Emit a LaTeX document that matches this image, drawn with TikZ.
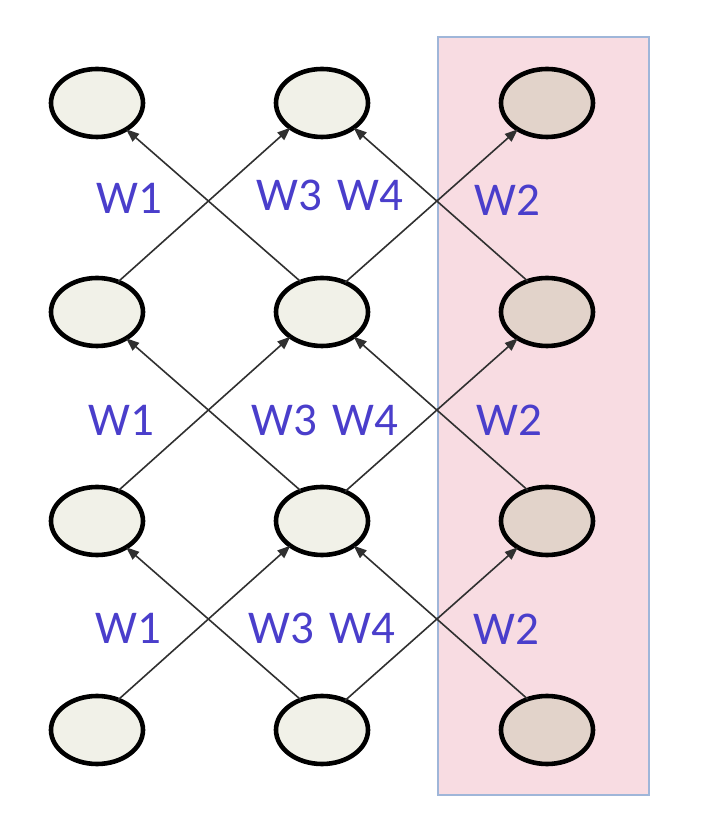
\documentclass[tikz,border=0pt]{standalone}
\usepackage{fontspec}
\setmainfont{Carlito}
\usepackage{xcolor}
\usetikzlibrary{shapes.geometric,arrows.meta,positioning,calc}
\definecolor{cellCream}{HTML}{F1F1E8}
\definecolor{cellRose}{HTML}{E2D3CA}
\definecolor{panelPink}{HTML}{F8DCE2}
\definecolor{panelEdge}{HTML}{9FB6D9}
\definecolor{wLabel}{HTML}{4A3ECB}
\definecolor{wireGray}{HTML}{303030}

\begin{document}
\begin{tikzpicture}[
    x=1pt, y=1pt,
    node distance=141pt and 133pt,
    font=\fontsize{47}{54}\selectfont,
    cell/.style={ellipse, draw=black, fill=cellCream, line width=4.6pt, minimum width=92pt, minimum height=68pt, inner sep=0pt, outer sep=0pt},
    shared/.style={cell, fill=cellRose},
    wire/.style={draw=wireGray, line width=1.6pt, -{Triangle[length=13pt,width=10pt]}},
    wlab/.style={text=wLabel, inner sep=0pt}
  ]
    \useasboundingbox (0,0) rectangle (704,832);
    % shaded column
    \draw[fill=panelPink, draw=panelEdge, line width=2pt] (438,37) rectangle (649,795);

    % left column
    \node[cell] (a1) at (97,729) {};
    \node[cell, below=of a1] (a2) {};
    \node[cell, below=of a2] (a3) {};
    \node[cell, below=of a3] (a4) {};
    % middle column
    \node[cell, right=of a1] (b1) {};
    \node[cell, below=of b1] (b2) {};
    \node[cell, below=of b2] (b3) {};
    \node[cell, below=of b3] (b4) {};
    % right column
    \node[shared, right=of b1] (c1) {};
    \node[shared, below=of c1] (c2) {};
    \node[shared, below=of c2] (c3) {};
    \node[shared, below=of c3] (c4) {};

    % row 2 -> row 1
    \draw[wire] (a2.55) -- (b1.218);
    \draw[wire] (b2.125) -- (a1.318);
    \draw[wire] (b2.52) -- (c1.222);
    \draw[wire] (c2.122) -- (b1.322);
    % row 3 -> row 2
    \draw[wire] (a3.55) -- (b2.218);
    \draw[wire] (b3.125) -- (a2.318);
    \draw[wire] (b3.52) -- (c2.222);
    \draw[wire] (c3.122) -- (b2.322);
    % row 4 -> row 3
    \draw[wire] (a4.55) -- (b3.218);
    \draw[wire] (b4.125) -- (a3.318);
    \draw[wire] (b4.52) -- (c3.222);
    \draw[wire] (c4.122) -- (b3.322);

    % weights
    \node[wlab] (w1a) at (129,634) {W1};
    \node[wlab] (w34a) at (330,637) {W3\,\,W4};
    \node[wlab] (w2a) at (507,632) {W2};
    \node[wlab] (w1b) at (121,412) {W1};
    \node[wlab] (w34b) at (325,412) {W3\,\,W4};
    \node[wlab] (w2b) at (509,412) {W2};
    \node[wlab] (w1c) at (128,204) {W1};
    \node[wlab] (w34c) at (322,204) {W3\,\,W4};
    \node[wlab] (w2c) at (506,203) {W2};
\end{tikzpicture}
\end{document}
